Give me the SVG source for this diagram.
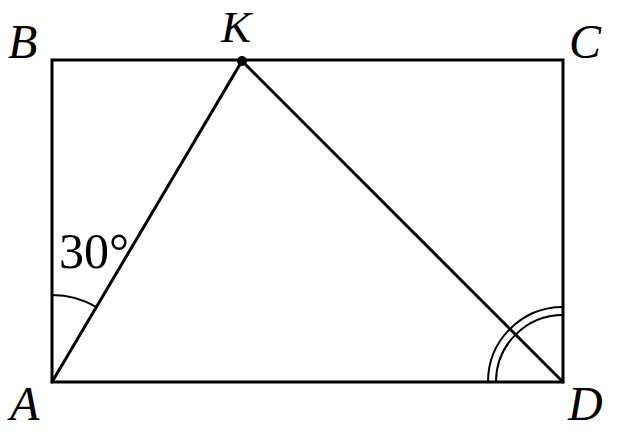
<svg xmlns="http://www.w3.org/2000/svg" width="624" height="440" viewBox="0 0 624 440">
<style>
.l{fill:none;stroke:#000;stroke-width:3;stroke-linejoin:miter;stroke-linecap:round}
.a{fill:none;stroke:#000;stroke-width:2}
.t{font-family:'Liberation Serif','Times New Roman',serif;font-style:italic;font-size:48px;fill:#000}
.n{font-family:'Liberation Serif','Times New Roman',serif;font-size:50px;fill:#000}
</style>
<rect width="624" height="440" fill="#fff"/>
<g id="connectors">
<rect class="l" x="52" y="60" width="511" height="322"/>
<path class="l" d="M52 382 L242 61 L563 382"/>
<path class="a" d="M52 295 A87 87 0 0 1 96.5 307.2"/>
<path class="a" d="M488 382 A75 75 0 0 1 563 307"/>
<path class="a" d="M496 382 A67 67 0 0 1 563 315"/>
</g>
<g id="K"><circle cx="242" cy="61" r="5" fill="#000"/><text class="t" x="221" y="42" style="font-size:45px">K</text></g>
<g id="B"><text class="t" x="8" y="58">B</text></g>
<g id="C"><text class="t" x="569" y="58">C</text></g>
<g id="A"><text class="t" x="10" y="420">A</text></g>
<g id="D"><text class="t" x="568" y="420">D</text></g>
<g id="angle"><text class="n" x="59" y="268">30°</text></g>
</svg>
